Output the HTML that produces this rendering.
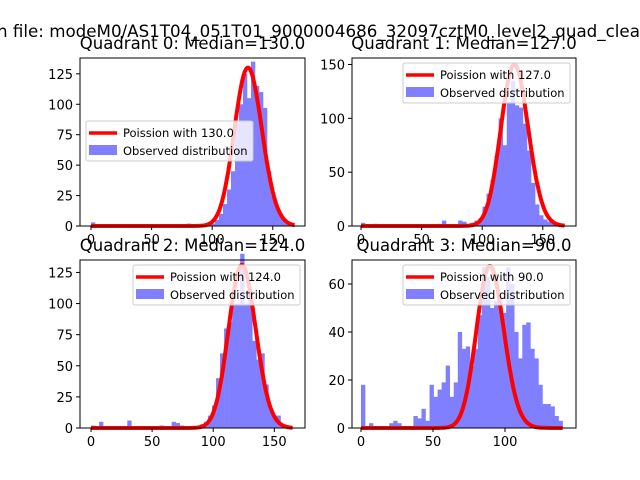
<!DOCTYPE html>
<html><head><meta charset="utf-8"><style>
body{margin:0;background:#fff;}
svg{display:block;font-family:"DejaVu Sans","Liberation Sans",sans-serif;}
</style></head><body>
<svg id="fig" width="640" height="480" viewBox="0 0 640 480">
<text x="-3" y="37" font-size="16.7" fill="#000">n file: modeM0/AS1T04_051T01_9000004686_32097cztM0_level2_quad_clean</text>
</svg>
<script>
// ---- data ----
const titles = ["Quadrant 0: Median=130.0","Quadrant 1: Median=127.0","Quadrant 2: Median=124.0","Quadrant 3: Median=90.0"];
const medians = [130, 127, 124, 90];
const binMax = [165, 167, 165, 140];
const counts0 = [3,1,1,0,0,0,0,0,0,0,0,0,0,0,0,0,0,0,0,0,0,0,0,0,2,0,0,0,0,0,2,5,10,18,30,45,85,100,125,105,135,115,110,97,45,25,15,10,5,2];
const counts1 = [3,0,0,2,0,0,0,0,0,0,0,0,0,0,0,0,0,0,0,2,5,0,0,0,5,4,0,3,5,7,18,30,43,65,100,75,115,135,112,110,95,70,40,20,10,6,4,2,1,0];
const counts2 = [2,0,5,0,0,0,0,0,0,6,0,0,0,0,0,0,0,2,0,0,5,4,2,0,0,0,0,3,5,10,18,40,60,80,85,100,100,140,100,110,70,55,60,35,15,10,10,2,0,0];
const counts3 = [18,0,2,0,0,0,0,2,3,2,0,0,0,5,4,8,3,18,13,16,19,26,13,19,40,33,34,26,33,47,67,63,50,53,55,48,67,60,40,29,43,44,33,29,18,10,10,9,5,3];
const allCounts = [counts0, counts1, counts2, counts3];
const curveMax = [168, 168, 165, 140];
const curvePeak = [130, 150, 131, 67.5];
const yTicks = [[0,25,50,75,100,125],[0,50,100,150],[0,25,50,75,100,125],[0,20,40,60]];
const xTicks = [[0,50,100,150],[0,50,100,150],[0,50,100,150],[0,50,100]];
const yMax = [138, 156, 135, 70];
// ---- layout ----
const boxes = [
 {l:80,r:305,t:58,b:226,x0:91,xs:1.212, leg:[86,121]},
 {l:352,r:576,t:58,b:226,x0:361,xs:1.212, leg:[403,63]},
 {l:80,r:305,t:260,b:428,x0:91,xs:1.222, leg:[133,265]},
 {l:352,r:576,t:260,b:428,x0:361,xs:1.44, leg:[403,265]}
];
const svg = document.getElementById('fig');
const NS = 'http://www.w3.org/2000/svg';
function mk(tag, attrs, parent){const e=document.createElementNS(NS,tag);for(const k in attrs)e.setAttribute(k,attrs[k]);(parent||svg).appendChild(e);return e;}
function lnfact(k){let s=0;for(let i=2;i<=k;i++)s+=Math.log(i);return s;}
boxes.forEach((b,q)=>{
  const g=mk('g',{});
  
  
  const X=v=>b.x0+v*b.xs;
  const Y=v=>b.b-v*(b.b-b.t)/yMax[q];
  const t=mk('text',{x:(b.l+b.r)/2,y:b.t-9,'font-size':16.5,'text-anchor':'middle'},g);
  t.textContent=titles[q];
  
  
  const cs=allCounts[q], w=binMax[q]/cs.length;
  cs.forEach((c,i)=>{ if(c<=0)return;
    const r=mk('rect',{x:X(i*w),y:Y(c),width:X((i+1)*w)-X(i*w)+0.3,height:Y(0)-Y(c),fill:'#7f7fff'},g);
    
    
  });
  const lam=medians[q], lpk=lam*Math.log(lam)-lam-lnfact(Math.floor(lam));
  let d='';
  for(let k=0;k<=curveMax[q];k++){
    const lp=k*Math.log(lam)-lam-lnfact(k);
    const v=curvePeak[q]*Math.exp(lp-lpk);
    d+=(k?'L':'M')+X(k).toFixed(1)+' '+Y(v).toFixed(1);
  }
  const p=mk('path',{d:d,fill:'none',stroke:'#ff0000','stroke-width':4,'stroke-linejoin':'round'},g);
  
  
  const fr=mk('rect',{x:b.l,y:b.t,width:b.r-b.l,height:b.b-b.t,fill:'none',stroke:'#000','stroke-width':1},g);
  
  
  xTicks[q].forEach(v=>{
    mk('line',{x1:X(v),x2:X(v),y1:b.b,y2:b.b+4,stroke:'#000'},g);
    const tx=mk('text',{x:X(v),y:b.b+18,'font-size':13,'text-anchor':'middle'},g);
    tx.textContent=v;
    
    
  });
  yTicks[q].forEach(v=>{
    mk('line',{x1:b.l-4,x2:b.l,y1:Y(v),y2:Y(v),stroke:'#000'},g);
    const ty=mk('text',{x:b.l-7,y:Y(v)+5,'font-size':13,'text-anchor':'end'},g);
    ty.textContent=v;
    
    
  });
  const [lx,ly]=b.leg;
  const lg=mk('g',{},g);
  
  
  mk('rect',{x:lx,y:ly,width:167,height:40,rx:2,fill:'#fff','fill-opacity':0.8,stroke:'#ccc'},lg);
  mk('line',{x1:lx+3,x2:lx+31,y1:ly+12,y2:ly+12,stroke:'#ff0000','stroke-width':3.5},lg);
  const l1=mk('text',{x:lx+37,y:ly+16,'font-size':11.5},lg);
  l1.textContent='Poission with '+medians[q].toFixed(1);
  
  
  mk('rect',{x:lx+3,y:ly+24,width:28,height:10,fill:'#7f7fff'},lg);
  const l2=mk('text',{x:lx+37,y:ly+34,'font-size':11.5},lg);
  l2.textContent='Observed distribution';
  
  
});
</script>
</body></html>
